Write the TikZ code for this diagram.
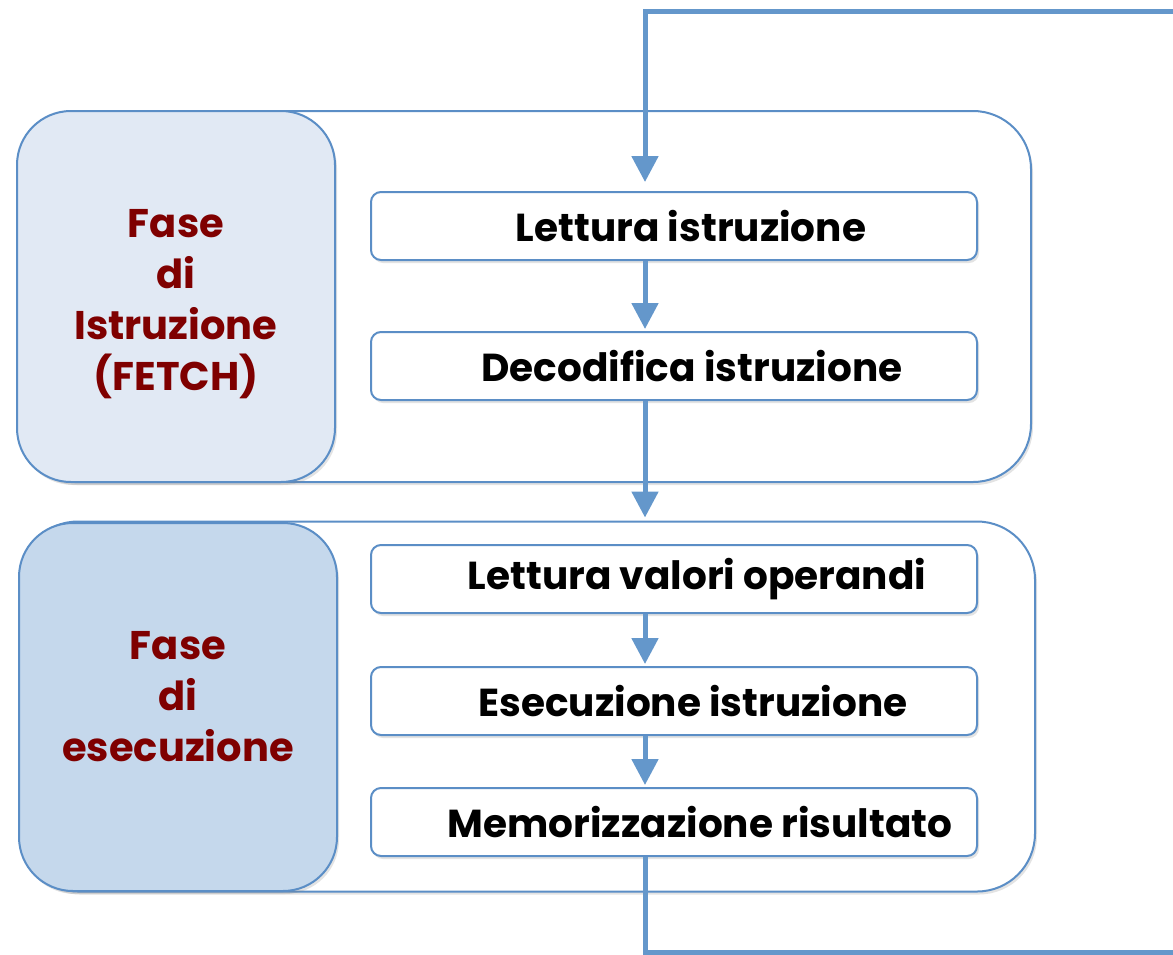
\documentclass[tikz,border=0pt]{standalone}
\usepackage{fontspec}
\setmainfont{Poppins}
\usetikzlibrary{arrows.meta,shadows}
\definecolor{bordo}{HTML}{5B8EC6}
\definecolor{freccia}{HTML}{6497CB}
\definecolor{fillA}{HTML}{E1E9F4}
\definecolor{fillB}{HTML}{C5D8EC}
\definecolor{rosso}{HTML}{7F0000}
\tikzset{
  px/.style={x=0.5pt,y=-0.5pt},
  shad/.style={drop shadow={opacity=0.22,shadow xshift=1pt,shadow yshift=-1.5pt}},
  outerbox/.style={draw=bordo,line width=1pt,fill=white,rounded corners=29pt,shad},
  sidebox/.style={draw=bordo,line width=1pt,rounded corners=27pt,shad},
  sidetext/.style={font=\fontsize{20}{25.5}\selectfont\bfseries,text=rosso,align=center,inner sep=0pt},
  stepbox/.style={draw=bordo,line width=1pt,fill=white,rounded corners=5pt,shad,
    minimum width=303pt,minimum height=34pt,inner sep=0pt,
    font=\fontsize{19.5}{22}\selectfont\bfseries},
  conn/.style={draw=freccia,line width=2.5pt},
  arr/.style={conn,-{Triangle[length=13pt,width=13pt]}},
}
\begin{document}
\begin{tikzpicture}[px]
\useasboundingbox (0,0) rectangle (1173,954);
% outer containers
\node[outerbox,minimum width=507pt,minimum height=185.5pt] (c1) at (524,296.5) {};
\node[outerbox,minimum width=507.5pt,minimum height=185pt] (c2) at (527.5,706.5) {};
% side boxes
\node[sidebox,fill=fillA,minimum width=159pt,minimum height=185.5pt] (f1) at (176,296.5) {};
\node[sidetext] (f1t) at (176,304) {Fase\\di\\Istruzione\\(FETCH)};
\node[sidebox,fill=fillB,minimum width=159pt,minimum height=184pt] (f2) at (178,707) {};
\node[sidetext] (f2t) at (178,697) {Fase\\di\\esecuzione};
% step boxes
\node[stepbox] (s1) at (674,226) {\hspace*{17pt}Lettura istruzione};
\node[stepbox] (s2) at (674,366) {\hspace*{18pt}Decodifica istruzione};
\node[stepbox] (s3) at (674,579) {\hspace*{23pt}Lettura valori operandi};
\node[stepbox] (s4) at (674,701) {\hspace*{19pt}Esecuzione istruzione};
\node[stepbox] (s5) at (674,822) {\hspace*{26pt}Memorizzazione risultato};
% connectors
\coordinate (inR) at (1173,11);
\coordinate (inC) at (645,11);
\coordinate (outB) at (645,952);
\coordinate (outR) at (1173,952);
\draw[arr,shorten >=4.5pt] (inR) -- (inC) -- (inC |- s1.north);
\draw[arr,shorten >=1pt] (s1.south -| inC) -- (s2.north -| inC);
\draw[arr,shorten >=1.5pt] (s2.south -| inC) -- (c2.north -| inC);
\draw[arr,shorten >=1pt] (s3.south -| inC) -- (s4.north -| inC);
\draw[arr,shorten >=1pt] (s4.south -| inC) -- (s5.north -| inC);
\draw[conn] (s5.south -| outB) -- (outB) -- (outR);
\end{tikzpicture}
\end{document}
